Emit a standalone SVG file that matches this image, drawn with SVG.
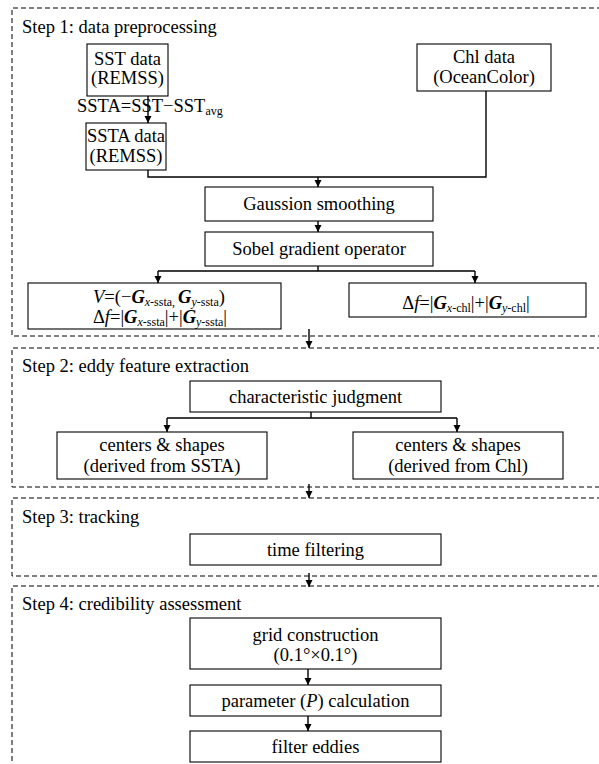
<svg xmlns="http://www.w3.org/2000/svg" width="599" height="764" viewBox="0 0 599 764">
<defs>
<marker id="ah" markerUnits="userSpaceOnUse" markerWidth="8" markerHeight="8" refX="7" refY="3.5" orient="auto">
<path d="M0,0 L7,3.5 L0,7 z" fill="#000"/>
</marker>
<style>
text{font-family:"Times New Roman",Times,"Liberation Serif",Tinos,"Noto Serif","DejaVu Serif",serif;font-size:18.5px;fill:#000}
.c{text-anchor:middle}
.box{fill:#fff;stroke:#000;stroke-width:1.1}
.step{fill:none;stroke:#000;stroke-width:1;stroke-dasharray:5 3}
.ln{fill:none;stroke:#000;stroke-width:1.4}
.arr{fill:none;stroke:#000;stroke-width:1.4;marker-end:url(#ah)}
.bi{font-weight:bold;font-style:italic}
.it{font-style:italic}
.sub{font-size:12px}
</style>
</defs>
<rect width="599" height="764" fill="#fff"/>

<g id="steps">
<path class="step" d="M610,8 H12 V336 H610"/>
<path class="step" d="M610,348 H12 V487 H610"/>
<path class="step" d="M610,498 H12 V576 H610"/>
<path class="step" d="M610,586 H12 V770"/>
<text x="22" y="33">Step 1: data preprocessing</text>
<text x="22" y="372">Step 2: eddy feature extraction</text>
<text x="22" y="523">Step 3: tracking</text>
<text x="22" y="610">Step 4: credibility assessment</text>
</g>

<g id="connectors">
<path class="arr" d="M148,96 V123"/>
<path class="ln" d="M148,170 V177 H486 V91"/>
<path class="arr" d="M318,177 V187"/>
<path class="arr" d="M318,221 V232"/>
<path class="ln" d="M318,266 V271 M158,271 H475"/>
<path class="arr" d="M158,271 V283"/>
<path class="arr" d="M475,271 V283"/>
<path class="arr" d="M309,329 V348"/>
<path class="ln" d="M311,412 V418 M167,418 H457"/>
<path class="arr" d="M167,418 V432"/>
<path class="arr" d="M457,418 V432"/>
<path class="arr" d="M309,484 V498"/>
<path class="arr" d="M309,573 V587"/>
<path class="arr" d="M308,669 V685"/>
<path class="arr" d="M308,716 V731"/>
</g>

<g id="sst">
<rect class="box" x="87" y="44" width="81" height="52"/>
<text class="c" x="127.5" y="65">SST data</text>
<text class="c" x="127.5" y="84">(REMSS)</text>
</g>

<g id="ssta-label">
<text x="77" y="112">SSTA=SST−SST<tspan class="sub" dy="3">avg</tspan></text>
</g>

<g id="ssta">
<rect class="box" x="86" y="123" width="80" height="47"/>
<text class="c" x="126" y="142">SSTA data</text>
<text class="c" x="126" y="162">(REMSS)</text>
</g>

<g id="chl">
<rect class="box" x="417" y="44" width="134" height="47"/>
<text class="c" x="484" y="63">Chl data</text>
<text class="c" x="484" y="83">(OceanColor)</text>
</g>

<g id="gauss">
<rect class="box" x="205" y="187" width="228" height="34"/>
<text class="c" x="319" y="210">Gaussion smoothing</text>
</g>

<g id="sobel">
<rect class="box" x="205" y="232" width="228" height="34"/>
<text class="c" x="319" y="255">Sobel gradient operator</text>
</g>

<g id="f-ssta">
<rect class="box" x="28" y="283" width="253" height="46"/>
<text class="c" x="159" y="303"><tspan class="it">V</tspan>=(−<tspan class="bi">G</tspan><tspan class="sub" dy="2.5"><tspan class="it">x</tspan>-ssta, </tspan><tspan class="bi" dy="-2.5">G</tspan><tspan class="sub" dy="2.5"><tspan class="it">y</tspan>-ssta</tspan><tspan dy="-2.5">)</tspan></text>
<text class="c" x="160" y="323">Δ<tspan class="it">f</tspan>=|<tspan class="bi">G</tspan><tspan class="sub" dy="2.5"><tspan class="it">x</tspan>-ssta</tspan><tspan dy="-2.5">|+|</tspan><tspan class="bi">G</tspan><tspan class="sub" dy="2.5"><tspan class="it">y</tspan>-ssta</tspan><tspan dy="-2.5">|</tspan></text>
</g>

<g id="f-chl">
<rect class="box" x="349" y="283" width="237" height="34"/>
<text class="c" x="466" y="309">Δ<tspan class="it">f</tspan>=|<tspan class="bi">G</tspan><tspan class="sub" dy="2.5"><tspan class="it">x</tspan>-chl</tspan><tspan dy="-2.5">|+|</tspan><tspan class="bi">G</tspan><tspan class="sub" dy="2.5"><tspan class="it">y</tspan>-chl</tspan><tspan dy="-2.5">|</tspan></text>
</g>

<g id="judge">
<rect class="box" x="190" y="381" width="251" height="31"/>
<text class="c" x="315.5" y="403">characteristic judgment</text>
</g>

<g id="cs-ssta">
<rect class="box" x="57" y="432" width="210" height="47"/>
<text class="c" x="162" y="451">centers &amp; shapes</text>
<text class="c" x="162" y="472">(derived from SSTA)</text>
</g>

<g id="cs-chl">
<rect class="box" x="353" y="432" width="210" height="47"/>
<text class="c" x="458" y="451">centers &amp; shapes</text>
<text class="c" x="458" y="472">(derived from Chl)</text>
</g>

<g id="time">
<rect class="box" x="190" y="534" width="251" height="31"/>
<text class="c" x="315.5" y="556">time filtering</text>
</g>

<g id="grid">
<rect class="box" x="190" y="618" width="251" height="51"/>
<text class="c" x="315.5" y="641">grid construction</text>
<text class="c" x="315.5" y="661">(0.1°×0.1°)</text>
</g>

<g id="param">
<rect class="box" x="190" y="685" width="251" height="31"/>
<text class="c" x="315.5" y="707">parameter (<tspan class="it">P</tspan>) calculation</text>
</g>

<g id="filter">
<rect class="box" x="190" y="731" width="251" height="31"/>
<text class="c" x="315.5" y="753">filter eddies</text>
</g>
</svg>
